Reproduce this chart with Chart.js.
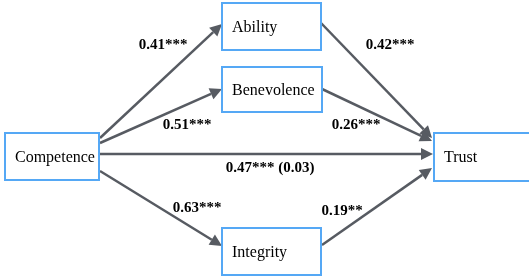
<!DOCTYPE html>
<html>
<head>
<meta charset="utf-8">
<script src="https://cdn.jsdelivr.net/npm/chart.js@4"></script>
<style>
  body { margin: 0; background: #fff; }
  #wrap { width: 529px; height: 278px; }
</style>
</head>
<body>
<div id="wrap"><canvas id="graph" width="529" height="278"></canvas></div>
<script>
// path model data
const nodeNames = ['Competence', 'Ability', 'Benevolence', 'Integrity', 'Trust'];
const edgeFrom = ['Competence', 'Competence', 'Competence', 'Competence', 'Ability', 'Benevolence', 'Integrity'];
const edgeTo = ['Ability', 'Benevolence', 'Trust', 'Integrity', 'Trust', 'Trust', 'Trust'];
const coefs = [0.41, 0.51, 0.47, 0.63, 0.42, 0.26, 0.19];
const stars = ['***', '***', '***', '***', '***', '***', '**'];
const directCoef = [null, null, 0.03, null, null, null, null];

// layout (diagram units, 1 unit = 1px)
const boxes = {
  Competence: [5, 133, 94, 47],
  Ability: [222, 3, 99, 47],
  Benevolence: [222, 67, 100, 45],
  Integrity: [222, 228, 99, 47],
  Trust: [434, 133, 120, 48]
};
const edgeStart = [[100, 138], [100, 143], [100, 154], [100, 171], [321, 23], [322, 89], [322, 245]];
const edgeEnd = [[222, 24], [222, 89], [433, 154], [222, 246], [432, 138], [432, 141], [432, 168]];
const labelPos = [[163, 45], [187, 125], [270, 168], [197, 208], [390, 45], [356, 125], [342, 211]];

const arrowColor = '#575b62';
const boxColor = '#55a8f5';

const diagramPlugin = {
  id: 'diagram',
  afterDraw(chart) {
    const ctx = chart.ctx;
    const sx = chart.scales.x, sy = chart.scales.y;
    const px = v => sx.getPixelForValue(v);
    const py = v => sy.getPixelForValue(v);
    ctx.save();

    // arrows
    ctx.strokeStyle = arrowColor;
    ctx.fillStyle = arrowColor;
    ctx.lineWidth = 2.5;
    for (let i = 0; i < edgeFrom.length; i++) {
      const x1 = px(edgeStart[i][0]), y1 = py(edgeStart[i][1]);
      const x2 = px(edgeEnd[i][0]), y2 = py(edgeEnd[i][1]);
      const a = Math.atan2(y2 - y1, x2 - x1);
      const len = 12, hw = 6;
      const bx = x2 - len * Math.cos(a), by = y2 - len * Math.sin(a);
      ctx.beginPath();
      ctx.moveTo(x1, y1);
      ctx.lineTo(bx, by);
      ctx.stroke();
      ctx.beginPath();
      ctx.moveTo(x2, y2);
      ctx.lineTo(bx + hw * Math.sin(a), by - hw * Math.cos(a));
      ctx.lineTo(bx - hw * Math.sin(a), by + hw * Math.cos(a));
      ctx.closePath();
      ctx.fill();
    }

    // boxes
    ctx.lineWidth = 2;
    ctx.font = '16px "Liberation Serif", "Times New Roman", serif';
    ctx.textAlign = 'left';
    ctx.textBaseline = 'middle';
    nodeNames.forEach(n => {
      const b = boxes[n];
      const x0 = px(b[0]), y0 = py(b[1]);
      const w = px(b[0] + b[2]) - x0, h = py(b[1] + b[3]) - y0;
      ctx.fillStyle = '#fff';
      ctx.fillRect(x0, y0, w, h);
      ctx.strokeStyle = boxColor;
      ctx.strokeRect(x0, y0, w, h);
      ctx.fillStyle = '#000';
      ctx.fillText(n, x0 + 10, y0 + h / 2 + 1);
    });

    // coefficients
    ctx.font = 'bold 15px "Liberation Serif", "Times New Roman", serif';
    ctx.textAlign = 'center';
    ctx.fillStyle = '#000';
    for (let i = 0; i < coefs.length; i++) {
      let t = coefs[i].toFixed(2) + stars[i];
      if (directCoef[i] !== null) t += ' (' + directCoef[i].toFixed(2) + ')';
      ctx.fillText(t, px(labelPos[i][0]), py(labelPos[i][1]));
    }
    ctx.restore();
  }
};

const graph = document.getElementById('graph').getContext('2d');
const myChart = new Chart(graph, {
  type: 'scatter',
  data: {
    datasets: [{
      data: nodeNames.map(n => ({ x: boxes[n][0] + boxes[n][2] / 2, y: boxes[n][1] + boxes[n][3] / 2 })),
      pointRadius: 0
    }]
  },
  options: {
    responsive: false,
    animation: false,
    layout: { padding: 0 },
    scales: {
      x: { type: 'linear', min: 0, max: 529, display: false },
      y: { type: 'linear', min: 0, max: 278, reverse: true, display: false }
    },
    plugins: { legend: { display: false }, tooltip: { enabled: false } }
  },
  plugins: [diagramPlugin]
});
</script>
</body>
</html>
